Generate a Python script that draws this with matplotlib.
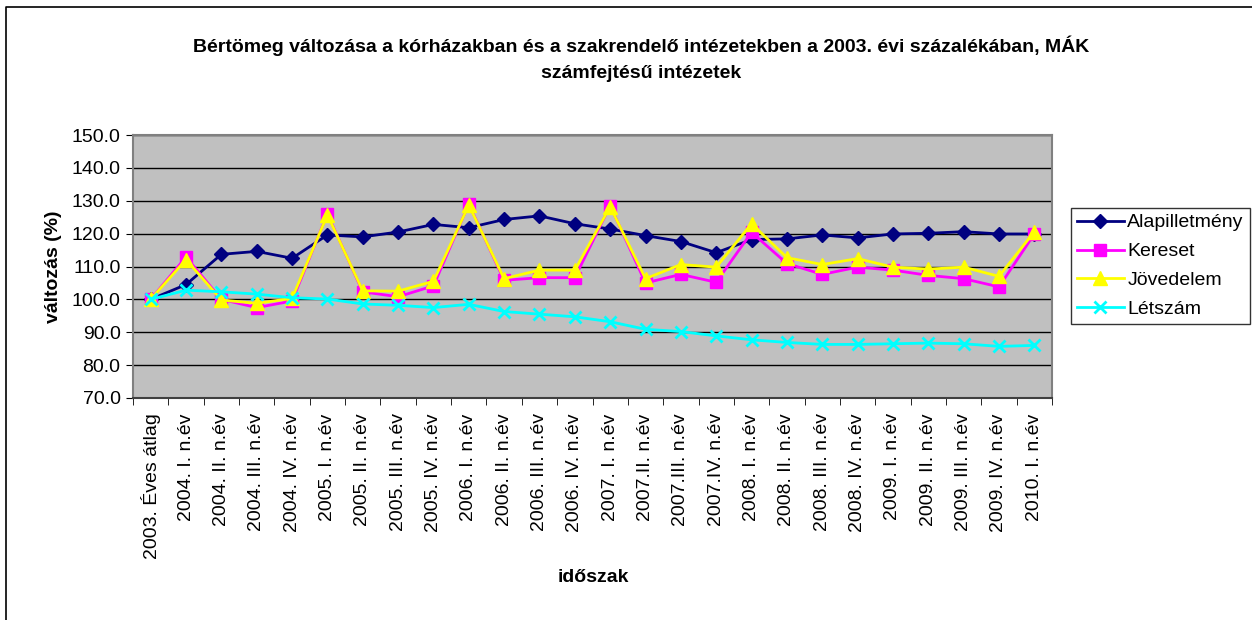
import matplotlib.pyplot as plt
from matplotlib.lines import Line2D

plt.rcParams['font.family'] = ['Liberation Sans', 'DejaVu Sans']

periods = [
    "2003. Éves átlag", "2004. I. n.év", "2004. II. n.év", "2004. III. n.év", "2004. IV. n.év",
    "2005. I. n.év", "2005. II. n.év", "2005. III. n.év", "2005. IV. n.év",
    "2006. I. n.év", "2006. II. n.év", "2006. III. n.év", "2006. IV. n.év",
    "2007. I. n.év", "2007.II. n.év", "2007.III. n.év", "2007.IV. n.év",
    "2008. I. n.év", "2008. II. n.év", "2008. III. n.év", "2008. IV. n.év",
    "2009. I. n.év", "2009. II. n.év", "2009. III. n.év", "2009. IV. n.év",
    "2010. I. n.év",
]

alapilletmeny = [100.0, 104.5, 113.7, 114.6, 112.5, 119.6, 119.0, 120.5, 122.8, 121.8,
                 124.3, 125.4, 123.0, 121.4, 119.4, 117.6, 114.2, 118.2, 118.4, 119.6,
                 118.7, 119.9, 120.1, 120.6, 119.9, 119.9]
kereset = [100.0, 112.9, 100.0, 97.5, 99.5, 126.0, 102.3, 100.8, 104.1, 129.0,
           105.8, 106.6, 106.6, 128.5, 105.0, 107.6, 105.2, 120.4, 110.9, 107.6,
           109.8, 108.9, 107.3, 106.3, 103.8, 119.9]
jovedelem = [100.0, 112.1, 99.8, 98.8, 100.3, 125.7, 102.6, 102.5, 105.5, 128.7,
             106.3, 108.9, 108.9, 128.2, 106.3, 110.6, 109.8, 123.0, 112.7, 110.6,
             112.4, 109.8, 109.2, 109.8, 107.0, 120.6]
letszam = [100.0, 102.8, 102.3, 101.6, 100.5, 100.1, 98.6, 98.2, 97.5, 98.5,
           96.3, 95.5, 94.7, 93.2, 90.9, 90.2, 88.9, 87.7, 86.9, 86.3,
           86.3, 86.5, 86.7, 86.5, 85.7, 86.0]

W, H = 1252, 620
FS = 14
fig = plt.figure(figsize=(W / 100, H / 100), dpi=100)
fig.patch.set_facecolor('white')

# outer chart border (only top and left visible in the crop)
fig.lines.append(Line2D([6 / W, 6 / W, 1.0], [0.0, 1 - 7 / H, 1 - 7 / H], transform=fig.transFigure,
                        color='black', linewidth=1.2))

# plot area: x 133..1052, y 135..398 (pixels from top)
ax = fig.add_axes([133 / W, 1 - 398 / H, (1052 - 133) / W, (398 - 135) / H])
ax.set_facecolor('#C0C0C0')

x = list(range(len(periods)))
ax.plot(x, alapilletmeny, color='#000080', lw=2, marker='D', ms=7, label='Alapilletmény', zorder=3)
ax.plot(x, kereset, color='#FF00FF', lw=2, marker='s', ms=9, label='Kereset', zorder=4)
ax.plot(x, jovedelem, color='#FFFF00', lw=2, marker='^', ms=10, label='Jövedelem', zorder=5)
ax.plot(x, letszam, color='#00FFFF', lw=2, marker='x', ms=9, mew=2, label='Létszám', zorder=6)

ax.set_ylim(70, 150)
ax.set_yticks(range(70, 151, 10))
ax.set_yticklabels([f"{v:.1f}" for v in range(70, 151, 10)], fontsize=FS)
ax.yaxis.grid(True, color='black', lw=1)
ax.set_axisbelow(True)

ax.set_xlim(-0.5, len(periods) - 0.5)
ax.set_xticks(x)
ax.set_xticklabels(periods, rotation=90, fontsize=FS)
ax.tick_params(axis='x', length=0, pad=11)
ax.set_xticks([i - 0.5 for i in range(len(periods) + 1)], minor=True)
ax.tick_params(axis='x', which='minor', length=5, color='black')
ax.tick_params(axis='y', length=5, pad=4)

for side in ['top', 'right', 'left']:
    ax.spines[side].set_color('#808080')
    ax.spines[side].set_linewidth(1.5)
ax.spines['bottom'].set_color('#404040')
ax.spines['bottom'].set_linewidth(1.5)

ax.set_ylabel('változás (%)', fontsize=FS, fontweight='bold', labelpad=7)
fig.text(593 / W, 1 - 578 / H, 'időszak', ha='center', va='center', fontsize=FS, fontweight='bold')

fig.text(641 / W, 1 - 46 / H,
         'Bértömeg változása a kórházakban és a szakrendelő intézetekben a 2003. évi százalékában, MÁK',
         ha='center', va='center', fontsize=FS, fontweight='bold')
fig.text(641 / W, 1 - 73 / H, 'számfejtésű intézetek',
         ha='center', va='center', fontsize=FS, fontweight='bold')

leg = fig.legend(loc='upper left', bbox_to_anchor=(1071 / W, 1 - 208 / H), fontsize=FS,
                 frameon=True, fancybox=False, edgecolor='black', handlelength=2.4,
                 borderaxespad=0, labelspacing=0.58, handletextpad=0.2, borderpad=0.3)
leg.get_frame().set_linewidth(1.0)

fig.savefig('out.png', dpi=100, facecolor='white')
